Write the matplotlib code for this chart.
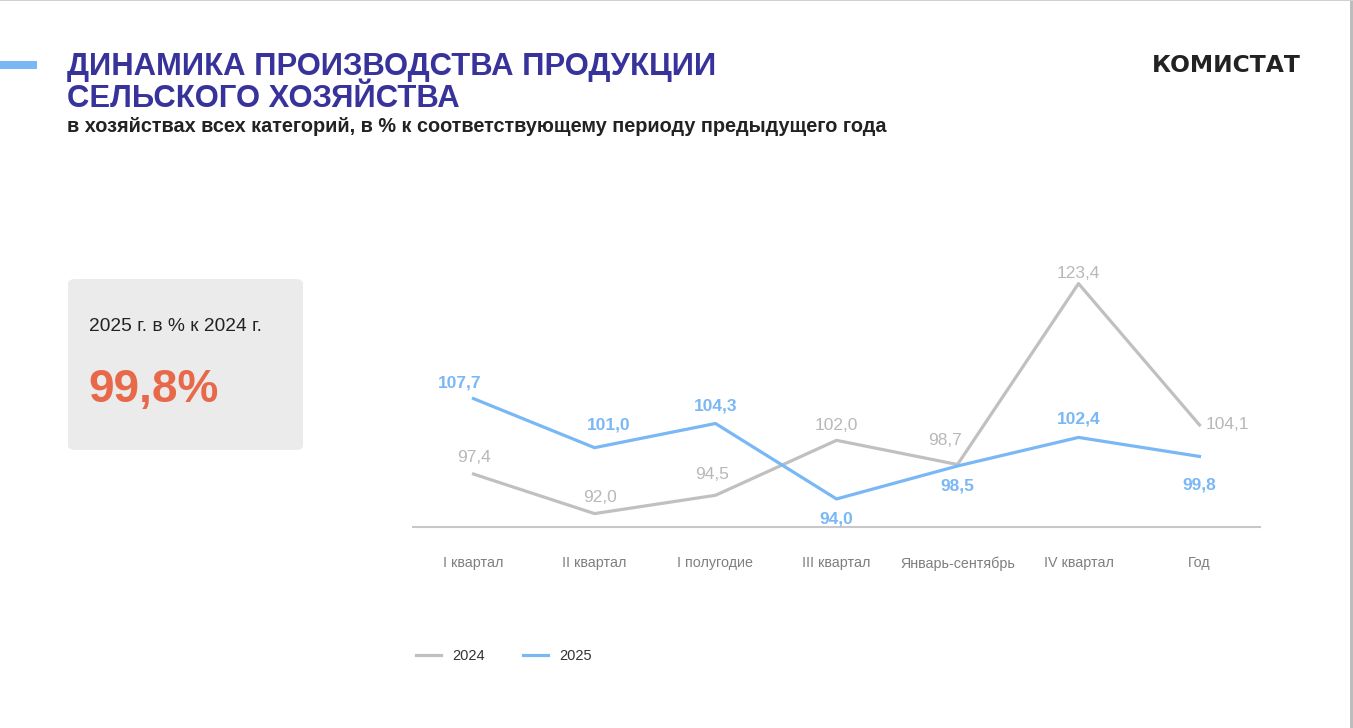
import matplotlib.pyplot as plt
from matplotlib.patches import FancyBboxPatch, Rectangle

categories = ["I квартал", "II квартал", "I полугодие", "III квартал",
              "Январь-сентябрь", "IV квартал", "Год"]
values_2024 = [97.4, 92.0, 94.5, 102.0, 98.7, 123.4, 104.1]
values_2025 = [107.7, 101.0, 104.3, 94.0, 98.5, 102.4, 99.8]
summary_label = "2025 г. в % к 2024 г."
summary_value = "99,8%"

# label offsets in pixels (dx, dy)
off_2024 = [(0, 17), (5, 16), (-3, 21), (0, 15), (-12, 24), (0, 10), (28, 0)]
off_2025 = [(-14, 16), (14, 23), (0, 17), (0, -20), (0, -20), (0, 18), (0, -29)]

GRAY = "#c0c0c0"
BLUE = "#7ab8f5"
TITLE = "#37339b"
SANS = ["Liberation Sans", "DejaVu Sans"]

W, H = 1353, 728
fig = plt.figure(figsize=(W / 100, H / 100), dpi=100)

def fx(px):
    return px / W

def fy(py):
    return 1 - py / H

# page decorations
fig.patches.append(Rectangle((0, fy(69)), fx(37), 8 / H, transform=fig.transFigure,
                             color=BLUE, lw=0))
fig.patches.append(Rectangle((fx(1350), 0), fx(3), 1, transform=fig.transFigure,
                             color="#bdbdbd", lw=0))
fig.patches.append(Rectangle((0, fy(1)), 1, 1 / H, transform=fig.transFigure,
                             color="#d0d0d0", lw=0))

fig.text(fx(67), fy(67), "ДИНАМИКА ПРОИЗВОДСТВА ПРОДУКЦИИ", family=SANS,
         weight="bold", fontsize=22.3, color=TITLE, va="center")
fig.text(fx(67), fy(99), "СЕЛЬСКОГО ХОЗЯЙСТВА", family=SANS,
         weight="bold", fontsize=22.3, color=TITLE, va="center")
fig.text(fx(67), fy(127), "в хозяйствах всех категорий, в % к соответствующему периоду предыдущего года",
         family=SANS, weight="bold", fontsize=14.3, color="#222222", va="center")
fig.text(fx(1301), fy(66), "КОМИСТАТ", family=["DejaVu Sans"], weight="bold",
         fontsize=16.8, color="#222222", va="center", ha="right")

# summary box
fig.patches.append(FancyBboxPatch((fx(68), fy(450)), fx(235), 171 / H,
                                  boxstyle="round,pad=0,rounding_size=0.006",
                                  transform=fig.transFigure, color="#ebebeb", lw=0))
fig.text(fx(89), fy(327), summary_label, family=SANS, fontsize=13.8,
         color="#222222", va="center")
fig.text(fx(88), fy(390), summary_value, family=SANS, weight="bold",
         fontsize=33, color="#e8694a", va="center")

# chart
ymin, ymax = 90.17, 125
ax = fig.add_axes([fx(413), fy(527), fx(847), (ymax - ymin) * 7.325 / H])
x = range(len(categories))
ax.plot(x, values_2024, color=GRAY, lw=2.3, label="2024")
ax.plot(x, values_2025, color=BLUE, lw=2.3, label="2025")
ax.set_xlim(-0.5, len(categories) - 0.5)
ax.set_ylim(ymin, ymax)

for i, v in enumerate(values_2024):
    dx, dy = off_2024[i]
    ax.annotate(f"{v:.1f}".replace(".", ","), (i, v), xytext=(dx, dy),
                textcoords="offset pixels", ha="center", va="center",
                family=SANS, fontsize=12.5, color="#b8b8b8")
for i, v in enumerate(values_2025):
    dx, dy = off_2025[i]
    ax.annotate(f"{v:.1f}".replace(".", ","), (i, v), xytext=(dx, dy),
                textcoords="offset pixels", ha="center", va="center",
                family=SANS, fontsize=12.5, color=BLUE, weight="bold")

for s in ["top", "right", "left"]:
    ax.spines[s].set_visible(False)
ax.spines["bottom"].set_color("#c8c8c8")
ax.spines["bottom"].set_linewidth(1.5)
ax.set_yticks([])
ax.set_xticks(list(x))
ax.set_xticklabels(categories, family=SANS, fontsize=10.3, color="#7f7f7f")
ax.tick_params(axis="x", length=0, pad=21)
ax.patch.set_alpha(0)

fig.legend(loc="center left", bbox_to_anchor=(fx(416), fy(656)), frameon=False,
           ncol=2, handlelength=1.7, handletextpad=0.8, columnspacing=2.6,
           borderpad=0, borderaxespad=0, prop={"family": SANS, "size": 10.5},
           labelcolor="#333333")

fig.savefig("out.png", dpi=100)
